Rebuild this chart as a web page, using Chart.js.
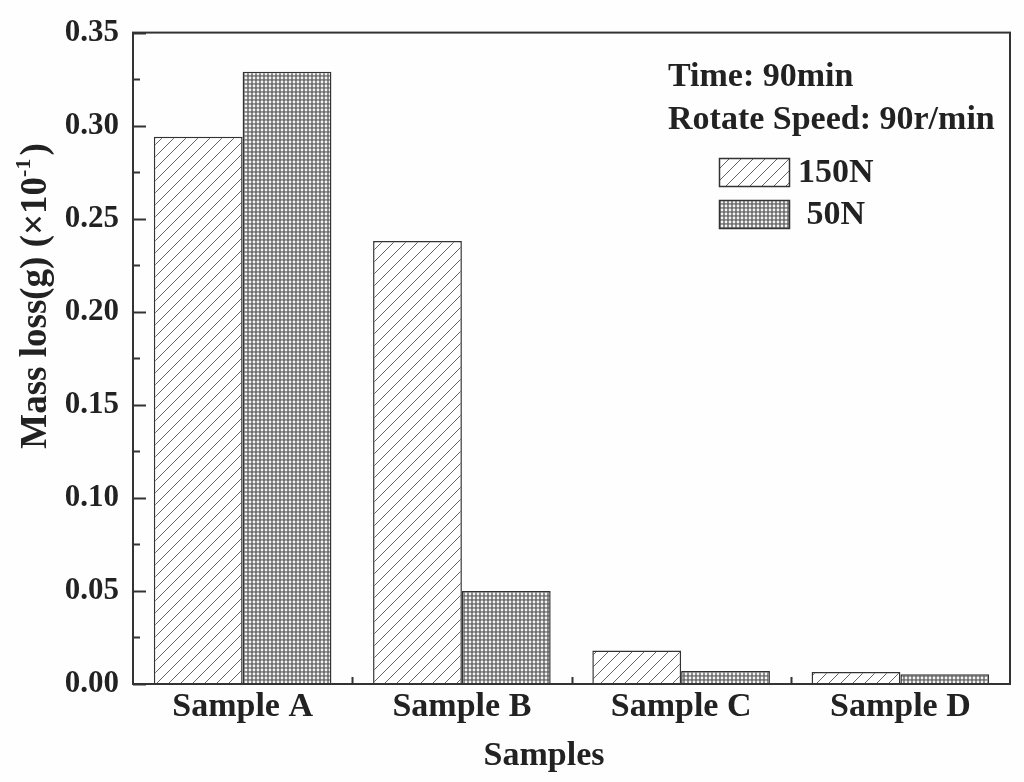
<!DOCTYPE html>
<html>
<head>
<meta charset="utf-8">
<script src="https://cdn.jsdelivr.net/npm/chart.js@4.4.1/dist/chart.umd.min.js"></script>
<style>
  html, body { margin: 0; padding: 0; background: #fefefe; }
  #chart { display: block; }
</style>
</head>
<body>
<canvas id="chart" width="1024" height="782"></canvas>
<script>
// data
const categories = ['Sample A', 'Sample B', 'Sample C', 'Sample D'];
const seriesNames = ['150N', '50N'];
const load150N = [0.294, 0.238, 0.018, 0.0064];
const load50N = [0.329, 0.050, 0.007, 0.0053];
const yMin = 0, yMax = 0.35, yStep = 0.05;
const infoLines = ['Time: 90min', 'Rotate Speed: 90r/min'];
const xTitle = 'Samples';

const FONT = "'Liberation Serif', 'Times New Roman', serif";
const INK = '#222';

// diagonal hatch "/" for 150N
function hatchPattern() {
    const c = document.createElement('canvas');
    c.width = 12; c.height = 12;
    const g = c.getContext('2d');
    g.fillStyle = '#fff';
    g.fillRect(0, 0, 12, 12);
    g.strokeStyle = '#666';
    g.lineWidth = 1;
    g.beginPath();
    g.moveTo(-1, 13); g.lineTo(13, -1);
    g.moveTo(-1, 1); g.lineTo(1, -1);
    g.moveTo(11, 13); g.lineTo(13, 11);
    g.stroke();
    return g.createPattern(c, 'repeat');
}

// fine cross-hatch for 50N
function crossPattern() {
    const c = document.createElement('canvas');
    c.width = 4; c.height = 4;
    const g = c.getContext('2d');
    g.fillStyle = '#6e6e6e';
    g.fillRect(0, 0, 4, 4);
    g.fillStyle = '#f4f4f4';
    g.beginPath();
    g.arc(2, 2, 1.4, 0, Math.PI * 2);
    g.fill();
    return g.createPattern(c, 'repeat');
}

const fills = [hatchPattern(), crossPattern()];

// frame, inward ticks, axis titles and the legend block
const decorations = {
    id: 'decorations',
    afterDraw(chart) {
        const ctx = chart.ctx;
        const area = chart.chartArea;
        const x = chart.scales.x;
        const y = chart.scales.y;
        ctx.save();
        ctx.strokeStyle = '#333';
        ctx.lineWidth = 2;
        ctx.strokeRect(area.left, area.top, area.right - area.left, area.bottom - area.top);

        // y ticks: major every step, minor halfway
        ctx.beginPath();
        for (let v = yMin; v <= yMax + 1e-9; v += yStep / 2) {
            const py = Math.round(y.getPixelForValue(v)) + 0.5;
            const major = Math.abs(Math.round(v / yStep) * yStep - v) < 1e-9;
            ctx.moveTo(area.left, py);
            ctx.lineTo(area.left + (major ? 13 : 7), py);
        }
        // x ticks between categories
        for (let i = 0; i < categories.length - 1; i++) {
            const px = Math.round((x.getPixelForValue(i) + x.getPixelForValue(i + 1)) / 2) + 0.5;
            ctx.moveTo(px, area.bottom);
            ctx.lineTo(px, area.bottom - 7);
        }
        ctx.stroke();

        // x axis title
        ctx.fillStyle = INK;
        ctx.font = 'bold 34px ' + FONT;
        ctx.textAlign = 'center';
        ctx.textBaseline = 'alphabetic';
        ctx.fillText(xTitle, 544, 765);

        // y axis title with superscript
        ctx.textAlign = 'left';
        ctx.translate(46, 296);
        ctx.rotate(-Math.PI / 2);
        const big = 'bold 37px ' + FONT;
        const small = 'bold 22px ' + FONT;
        const main = 'Mass loss(g) (\u00d710';
        const sup = '-1';
        ctx.font = big;
        const wMain = ctx.measureText(main).width;
        const wEnd = ctx.measureText(')').width;
        ctx.font = small;
        const wSup = ctx.measureText(sup).width;
        let sx = -(wMain + wSup + wEnd + 3) / 2;
        ctx.font = big;
        ctx.fillText(main, sx, 0);
        sx += wMain;
        ctx.font = small;
        ctx.fillText(sup, sx, -16);
        sx += wSup + 3;
        ctx.font = big;
        ctx.fillText(')', sx, 0);
        ctx.restore();

        // info text + legend
        ctx.save();
        ctx.fillStyle = INK;
        ctx.font = 'bold 34px ' + FONT;
        ctx.textBaseline = 'middle';
        ctx.fillText(infoLines[0], 668, 77);
        ctx.fillText(infoLines[1], 668, 120);
        chart.data.datasets.forEach((ds, i) => {
            const by = 158 + i * 42;
            ctx.fillStyle = ds.backgroundColor;
            ctx.fillRect(719, by, 70, 28);
            ctx.strokeStyle = '#333';
            ctx.lineWidth = 1.5;
            ctx.strokeRect(719.5, by + 0.5, 70, 28);
            ctx.fillStyle = INK;
            ctx.fillText((i === 1 ? ' ' : '') + ds.label, 798, by + 15);
        });
        ctx.restore();
    }
};

new Chart(document.getElementById('chart'), {
    type: 'bar',
    data: {
        labels: categories,
        datasets: [
            { label: seriesNames[0], data: load150N, backgroundColor: fills[0] },
            { label: seriesNames[1], data: load50N, backgroundColor: fills[1] }
        ]
    },
    options: {
        responsive: false,
        animation: false,
        devicePixelRatio: 1,
        layout: { padding: { top: 28, right: 14, left: 0, bottom: 0 } },
        datasets: {
            bar: {
                categoryPercentage: 0.81,
                barPercentage: 1.0,
                borderColor: '#333',
                borderWidth: 1.5,
                borderSkipped: 'bottom'
            }
        },
        plugins: {
            legend: { display: false },
            tooltip: { enabled: false }
        },
        scales: {
            x: {
                grid: { display: false, drawTicks: false },
                border: { display: false },
                ticks: {
                    color: INK,
                    padding: 3,
                    font: { family: FONT, size: 34, weight: 'bold' }
                },
                afterFit(scale) { scale.height = 98; }
            },
            y: {
                min: yMin,
                max: yMax,
                grid: { display: false, drawTicks: false },
                border: { display: false },
                ticks: {
                    stepSize: yStep,
                    color: INK,
                    padding: 14,
                    font: { family: FONT, size: 31, weight: 'bold' },
                    callback: v => v.toFixed(2)
                },
                afterFit(scale) { scale.width = 133; }
            }
        }
    },
    plugins: [decorations]
});
</script>
</body>
</html>
